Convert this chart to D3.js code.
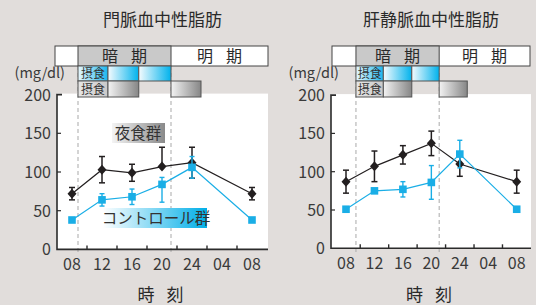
<!DOCTYPE html>
<html><head><meta charset="utf-8">
<script src="https://cdn.jsdelivr.net/npm/d3@7"></script>
<style>
html,body{margin:0;padding:0;background:#e1dddb;}
svg{display:block;}
text{font-family:"Noto Sans CJK JP","Noto Sans",sans-serif;}
</style></head>
<body>
<svg id="c" width="536" height="305"></svg>
<script>
// ---- data ----
const hours = [8, 12, 16, 20, 24, 32];
const tickHours = [8, 12, 16, 20, 24, 28, 32];
const tickLabels = ["08", "12", "16", "20", "24", "04", "08"];
const minorTickHours = [10, 14, 18, 22, 26, 30];
const yTicks = [0, 50, 100, 150, 200];
const titles = ["門脈血中性脂肪", "肝静脈血中性脂肪"];
const seriesNames = ["夜食群", "コントロール群"];
const periodNames = ["暗 期", "明 期"];
const feedLabel = "摂食";
const unitLabel = "(mg/dl)";
const xTitle = "時 刻";

// portal vein
const portalNight = [72, 103, 99, 107, 112, 72];
const portalNightErrUp = [8, 17, 11, 25, 20, 8];
const portalNightErrDown = [8, 17, 11, 0, 20, 8];
const portalCtrl = [38, 64, 68, 84, 106, 38];
const portalCtrlErrUp = [0, 8, 10, 9, 14, 0];
const portalCtrlErrDown = [0, 8, 10, 23, 14, 0];
const portalDark = [8.8, 21.2];
const portalFeedEdges = [8.8, 12.8, 16.9, 21.2, 25.2];

// hepatic vein
const hepNight = [87, 107, 122, 137, 110, 87];
const hepNightErrUp = [15, 20, 12, 16, 16, 15];
const hepNightErrDown = [15, 20, 12, 16, 16, 15];
const hepCtrl = [51, 75, 77, 86, 123, 51];
const hepCtrlErrUp = [0, 2, 10, 22, 18, 0];
const hepCtrlErrDown = [0, 2, 10, 22, 18, 0];
const hepDark = [9.4, 21.1];
const hepFeedEdges = [9.4, 13.25, 17.25, 21.1, 25.05];

const svg = d3.select("#c");
const defs = svg.append("defs");
function grad(id, c0, c1) {
  const g = defs.append("linearGradient").attr("id", id).attr("x1", 0).attr("x2", 1).attr("y1", 0).attr("y2", 0);
  g.append("stop").attr("offset", 0).attr("stop-color", c0);
  g.append("stop").attr("offset", 1).attr("stop-color", c1);
}
grad("gBlue", "#f5fbfe", "#00b2ec");
grad("gGray", "#f3f3f3", "#868686");
grad("gLab1", "#e8f7fd", "#19b6ee");
grad("gLab2", "#e6e6e6", "#c9c9c9");
grad("gLegGray", "#f4f4f4", "#8a8a8a");
grad("gLegBlue", "#ffffff", "#00aee8");

const BLACK = "#231f20", BLUE = "#1aaee6", TXT = "#3a3a3a";

// text with two characters spread apart (e.g. "暗 期")
function spread(g, txt, cx, y, size, gap, color) {
  const parts = txt.split(" ");
  const t = g.append("text").attr("y", y).attr("font-size", size).attr("fill", color).attr("text-anchor", "middle");
  t.append("tspan").attr("x", cx - gap / 2).text(parts[0]);
  t.append("tspan").attr("x", cx + gap / 2).text(parts[1]);
}

function panel(cfg) {
  const g = svg.append("g");
  const x = d3.scaleLinear().domain([8, 32]).range([cfg.xa, cfg.xb]);
  const y = d3.scaleLinear().domain([0, 200]).range([cfg.y0, cfg.y200]);
  const x0 = cfg.px0, x1 = cfg.px1;

  // title
  g.append("text").attr("x", (x0 + x1) / 2).attr("y", 26).attr("text-anchor", "middle")
    .attr("font-size", 17).attr("fill", "#2a2a2a").text(cfg.title);

  // plot background
  g.append("rect").attr("x", x0).attr("y", y(200) - 1).attr("width", x1 - x0).attr("height", y(0) - y(200) + 1).attr("fill", "#fff");

  // dashed dark period lines
  cfg.dark.forEach(h => {
    g.append("line").attr("x1", x(h)).attr("x2", x(h)).attr("y1", 66).attr("y2", y(0) + 4)
      .attr("stroke", "#a9a9a9").attr("stroke-width", 1).attr("stroke-dasharray", "4,3");
  });

  // header
  const hy = 46, hh = 20;
  g.append("rect").attr("x", cfg.hx0).attr("y", hy).attr("width", cfg.hx1 - cfg.hx0).attr("height", hh)
    .attr("fill", "#fff").attr("stroke", "#444").attr("stroke-width", 1);
  g.append("rect").attr("x", x(cfg.dark[0])).attr("y", hy).attr("width", x(cfg.dark[1]) - x(cfg.dark[0])).attr("height", hh)
    .attr("fill", "#c9c9c9").attr("stroke", "#444").attr("stroke-width", 1);
  spread(g, periodNames[0], (x(cfg.dark[0]) + x(cfg.dark[1])) / 2, hy + 16, 16, 29, "#2a2a2a");
  spread(g, periodNames[1], (x(cfg.dark[1]) + cfg.hx1) / 2, hy + 16, 16, 29, "#2a2a2a");

  // feeding rows
  const e = cfg.feed;
  const r1 = [66, 15], r2 = [81, 16];
  const cells = [
    [e[0], e[1], r1, "url(#gLab1)", true],
    [e[1], e[2], r1, "url(#gBlue)", false],
    [e[2], e[3], r1, "url(#gBlue)", false],
    [e[0], e[1], r2, "url(#gLab2)", true],
    [e[1], e[2], r2, "url(#gGray)", false],
    [e[3], e[4], r2, "url(#gGray)", false]
  ];
  cells.forEach(c => {
    g.append("rect").attr("x", x(c[0])).attr("y", c[2][0]).attr("width", x(c[1]) - x(c[0])).attr("height", c[2][1])
      .attr("fill", c[3]).attr("stroke", "#555").attr("stroke-width", 1);
    if (c[4]) g.append("text").attr("x", (x(c[0]) + x(c[1])) / 2).attr("y", c[2][0] + c[2][1] - 3)
      .attr("text-anchor", "middle").attr("font-size", 12).attr("fill", "#333").text(feedLabel);
  });

  // unit label
  g.append("text").attr("x", x0 + 8).attr("y", 77.5).attr("text-anchor", "end")
    .attr("font-size", 14.5).attr("fill", TXT).text(unitLabel);

  // axes
  const ax = g.append("g").attr("stroke", "#2b2b2b").attr("fill", "none");
  ax.append("path").attr("d", `M${x0 + 5},${y(200)}H${x0}V${y(0)}H${x1}`).attr("stroke-width", 1.6);
  yTicks.filter(v => v > 0 && v < 200).forEach(v => {
    ax.append("line").attr("x1", x0).attr("x2", x0 + 4).attr("y1", y(v)).attr("y2", y(v)).attr("stroke-width", 1.2);
  });
  minorTickHours.forEach(h => {
    ax.append("line").attr("x1", x(h)).attr("x2", x(h)).attr("y1", y(0)).attr("y2", y(0) - 4).attr("stroke-width", 1.4);
  });
  yTicks.forEach(v => {
    g.append("text").attr("x", x0 - 6).attr("y", y(v) + 6).attr("text-anchor", "end")
      .attr("font-size", 16).attr("fill", TXT).text(v);
  });
  tickHours.forEach((h, i) => {
    g.append("text").attr("x", x(h)).attr("y", y(0) + 21).attr("text-anchor", "middle")
      .attr("font-size", 16).attr("fill", TXT).text(tickLabels[i]);
  });
  spread(g, xTitle, (x0 + x1) / 2 - 2, 301, 17, 29, "#2a2a2a");

  // legends
  if (cfg.legend) {
    g.append("rect").attr("x", 112).attr("y", 123).attr("width", 53).attr("height", 20).attr("fill", "url(#gLegGray)");
    g.append("text").attr("x", 138).attr("y", 139).attr("text-anchor", "middle").attr("font-size", 15.5)
      .attr("fill", "#333").text(seriesNames[0]);
    g.append("rect").attr("x", 103).attr("y", 208).attr("width", 104).attr("height", 20).attr("fill", "url(#gLegBlue)");
    g.append("text").attr("x", 156).attr("y", 224).attr("text-anchor", "middle").attr("font-size", 15.5)
      .attr("fill", "#333").text(seriesNames[1]);
  }

  const line = d3.line().x((d, i) => x(hours[i])).y(d => y(d));
  function series(vals, up, dn, color, lw, cap, ew, marker) {
    const s = g.append("g");
    s.append("path").attr("d", line(vals)).attr("fill", "none").attr("stroke", color).attr("stroke-width", lw);
    vals.forEach((v, i) => {
      const cx = x(hours[i]);
      if (up[i] > 0 || dn[i] > 0) {
        const top = y(v + up[i]), bot = y(v - dn[i]);
        s.append("line").attr("x1", cx).attr("x2", cx).attr("y1", top).attr("y2", bot).attr("stroke", color).attr("stroke-width", ew);
        if (up[i] > 0) s.append("line").attr("x1", cx - cap).attr("x2", cx + cap).attr("y1", top).attr("y2", top).attr("stroke", color).attr("stroke-width", ew);
        if (dn[i] > 0) s.append("line").attr("x1", cx - cap).attr("x2", cx + cap).attr("y1", bot).attr("y2", bot).attr("stroke", color).attr("stroke-width", ew);
      }
    });
    vals.forEach((v, i) => {
      const cx = x(hours[i]), cy = y(v);
      if (marker === "diamond") {
        s.append("path").attr("d", `M${cx},${cy - 5}L${cx + 4.5},${cy}L${cx},${cy + 5}L${cx - 4.5},${cy}Z`).attr("fill", color);
      } else {
        s.append("rect").attr("x", cx - 3.8).attr("y", cy - 3.8).attr("width", 7.6).attr("height", 7.6).attr("fill", color);
      }
    });
  }
  series(cfg.night, cfg.nUp, cfg.nDn, BLACK, 1.2, 3, 1.5, "diamond");
  series(cfg.ctrl, cfg.cUp, cfg.cDn, BLUE, 1.2, 2.5, 1.4, "square");
}

panel({
  title: titles[0], xa: 72, xb: 252, y0: 249.4, y200: 94.6, px0: 57, px1: 268, hx0: 55, hx1: 268,
  dark: portalDark, feed: portalFeedEdges, legend: true,
  night: portalNight, nUp: portalNightErrUp, nDn: portalNightErrDown,
  ctrl: portalCtrl, cUp: portalCtrlErrUp, cDn: portalCtrlErrDown
});
panel({
  title: titles[1], xa: 346, xb: 516.7, y0: 248.3, y200: 95.1, px0: 331, px1: 531, hx0: 332, hx1: 530,
  dark: hepDark, feed: hepFeedEdges, legend: false,
  night: hepNight, nUp: hepNightErrUp, nDn: hepNightErrDown,
  ctrl: hepCtrl, cUp: hepCtrlErrUp, cDn: hepCtrlErrDown
});
</script>
</body></html>
